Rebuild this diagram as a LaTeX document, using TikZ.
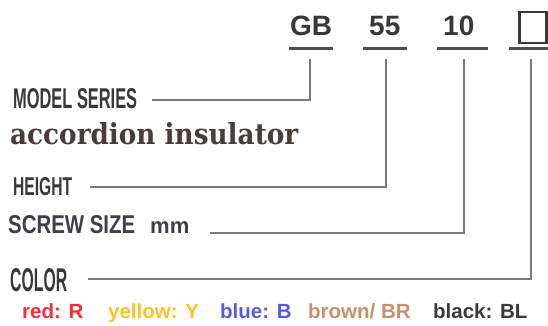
\documentclass[tikz,border=0pt]{standalone}
\usepackage{fontspec}
\setmainfont{Liberation Sans}
\newfontfamily\slabfont{DejaVu Serif}
\usepackage{graphicx}
\definecolor{labelgray}{HTML}{383838}
\definecolor{linegray}{HTML}{7A7A7A}
\definecolor{ulgray}{HTML}{505050}
\definecolor{slabcol}{HTML}{4A3C38}
\definecolor{screwcol}{HTML}{3C4048}
\definecolor{cred}{HTML}{FF2A33}
\definecolor{cyellow}{HTML}{FFC21E}
\definecolor{cblue}{HTML}{5A5AE0}
\definecolor{cbrown}{HTML}{C8906C}
\definecolor{cblack}{HTML}{3A3A3A}
\begin{document}
\begin{tikzpicture}[x=1pt,y=-1pt,
  lbl/.style={anchor=base west,inner sep=0pt,text=labelgray},
  codetxt/.style={anchor=base west,inner sep=0pt,text=labelgray,font=\fontsize{28}{30}\selectfont\bfseries},
  colortxt/.style={anchor=base west,inner sep=0pt,font=\fontsize{20.5}{22}\selectfont\bfseries},
  conn/.style={draw=linegray,line width=1.6pt},
  uline/.style={draw=ulgray,line width=3pt}]
\useasboundingbox (0,0) rectangle (548,325);

% code parts
\node[codetxt] (gb) at (290,35) {GB};
\node[codetxt] (n55) at (369,35) {55};
\node[codetxt] (n10) at (443,35) {10};
\node[draw=labelgray,line width=2.6pt,minimum width=27pt,minimum height=31pt,inner sep=0pt,anchor=north west] (box) at (518,10.5) {};

% underlines
\draw[uline] (289,48) -- (333,48);
\draw[uline] (363,48) -- (407,48);
\draw[uline] (437,48) -- (488,48);
\draw[uline] (509,48) -- (548,48);

% labels
\node[lbl] (ms) at (13,108) {\resizebox{124pt}{20pt}{\bfseries MODEL SERIES}};
\node[lbl,text=slabcol] (acc) at (10,144) {\resizebox{288pt}{22pt}{\slabfont\bfseries accordion insulator}};
\node[lbl] (ht) at (13,195) {\resizebox{59pt}{18pt}{\bfseries HEIGHT}};
\node[lbl,text=screwcol] (ss) at (8,233) {\resizebox{127pt}{18pt}{\bfseries SCREW SIZE}};
\node[lbl,text=screwcol,font=\fontsize{22}{24}\selectfont\bfseries] (mm) at (150,233) {mm};
\node[lbl] (col) at (10,291) {\resizebox{57pt}{23pt}{\bfseries COLOR}};

% colour list
\node[colortxt,text=cred] (cr) at (22,318) {red: R};
\node[colortxt,text=cyellow] (cy) at (108,318) {yellow: Y};
\node[colortxt,text=cblue] (cb) at (220,318) {blue: B};
\node[colortxt,text=cbrown] (cbr) at (308,318) {brown/ BR};
\node[colortxt,text=cblack] (cbl) at (433,318) {black: BL};

% connector ends
\coordinate (gbtop) at (310,59);
\coordinate (n55top) at (386,59);
\coordinate (n10top) at (464,59);
\coordinate (boxtop) at (531,59);
\coordinate (msend) at (152,100);
\coordinate (htend) at (90,187);
\coordinate (ssend) at (210,233);
\coordinate (colend) at (88,279);

\draw[conn] (gbtop) |- (msend);
\draw[conn] (n55top) |- (htend);
\draw[conn] (n10top) |- (ssend);
\draw[conn] (boxtop) |- (colend);
\end{tikzpicture}
\end{document}
